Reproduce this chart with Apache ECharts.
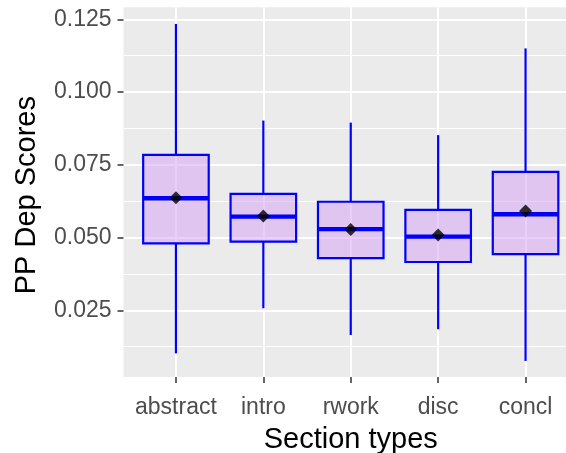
<!DOCTYPE html>
<html><head><meta charset="utf-8">
<script src="https://cdn.jsdelivr.net/npm/echarts@6/dist/echarts.min.js"></script>
<style>html,body{margin:0;padding:0;background:#fff}#c{width:566px;height:453px}</style>
</head><body><div id="c"></div>
<script>
const categories = ['abstract', 'intro', 'rwork', 'disc', 'concl'];
const whiskerLow = [0.0102, 0.0257, 0.0165, 0.0185, 0.0076];
const q1 = [0.0480, 0.0486, 0.0429, 0.0416, 0.0443];
const median = [0.0635, 0.0572, 0.0529, 0.0503, 0.0580];
const q3 = [0.0784, 0.0650, 0.0623, 0.0595, 0.0726];
const whiskerHigh = [0.1234, 0.0902, 0.0895, 0.0852, 0.1150];
const means = [0.0637, 0.0574, 0.0528, 0.0509, 0.0591];
const yTicks = [0.025, 0.05, 0.075, 0.1, 0.125];
const yMinor = [0.0125, 0.0375, 0.0625, 0.0875, 0.1125];
const xPositions = [1, 2, 3, 4, 5];

const FONT = "'Liberation Sans', Arial, sans-serif";
const boxData = categories.map((c, k) => [xPositions[k], whiskerLow[k], q1[k], median[k], q3[k], whiskerHigh[k]]);
const meanData = categories.map((c, k) => [xPositions[k], means[k]]);

const chart = echarts.init(document.getElementById('c'), null, {renderer: 'canvas'});
chart.setOption({
  animation: false,
  backgroundColor: '#ffffff',
  grid: {left: 123.5, top: 7.3, right: -12, bottom: 76, show: true, backgroundColor: '#EBEBEB', borderWidth: 0, outerBoundsMode: 'none', containLabel: false},
  xAxis: {
    type: 'value', min: 0.4, max: 5.6,
    name: 'Section types', nameLocation: 'middle', nameGap: 48,
    nameTextStyle: {fontFamily: FONT, fontSize: 29, color: '#000000'},
    axisLine: {show: false},
    axisTick: {show: true, customValues: xPositions, length: 6, lineStyle: {color: '#333333', width: 1.5}},
    axisLabel: {customValues: xPositions, margin: 19, fontFamily: FONT, fontSize: 23, color: '#4D4D4D',
      formatter: v => categories[Math.round(v) - 1] || ''},
    splitLine: {show: true, lineStyle: {color: '#FFFFFF', width: 2}}
  },
  yAxis: [{
    type: 'value', min: 0.00208, max: 0.12912,
    name: 'PP Dep Scores', nameLocation: 'middle', nameRotate: 90, nameGap: 82,
    nameTextStyle: {fontFamily: FONT, fontSize: 29, color: '#000000', padding: [0, 6, 0, 0]},
    axisLine: {show: false},
    axisTick: {show: true, customValues: yTicks, length: 6, lineStyle: {color: '#333333', width: 1.5}},
    axisLabel: {customValues: yTicks, margin: 12, fontFamily: FONT, fontSize: 23, color: '#4D4D4D',
      formatter: v => v.toFixed(3)},
    splitLine: {show: true, lineStyle: {color: '#FFFFFF', width: 2}}
  }, {
    type: 'value', min: 0.00208, max: 0.12912, position: 'left',
    axisLine: {show: false},
    axisTick: {show: false, customValues: yMinor},
    axisLabel: {show: false, customValues: yMinor},
    splitLine: {show: true, lineStyle: {color: '#FFFFFF', width: 1}}
  }],
  series: [{
    type: 'custom',
    data: boxData,
    encode: {x: 0, y: [1, 2, 3, 4, 5]},
    z: 3,
    renderItem: function (params, api) {
      const x = api.value(0);
      const lo = api.coord([x, api.value(1)]);
      const b1 = api.coord([x, api.value(2)]);
      const md = api.coord([x, api.value(3)]);
      const b3 = api.coord([x, api.value(4)]);
      const hi = api.coord([x, api.value(5)]);
      const w = api.size([0.75, 0])[0];
      const blue = '#0000FF';
      return {
        type: 'group',
        children: [
          {type: 'line', shape: {x1: hi[0], y1: hi[1], x2: b3[0], y2: b3[1]}, style: {stroke: blue, lineWidth: 2.2}},
          {type: 'line', shape: {x1: b1[0], y1: b1[1], x2: lo[0], y2: lo[1]}, style: {stroke: blue, lineWidth: 2.2}},
          {type: 'rect', shape: {x: md[0] - w / 2, y: b3[1], width: w, height: b1[1] - b3[1]},
            style: {fill: 'rgba(211,159,243,0.5)', stroke: blue, lineWidth: 2.2}},
          {type: 'line', shape: {x1: md[0] - w / 2, y1: md[1], x2: md[0] + w / 2, y2: md[1]}, style: {stroke: blue, lineWidth: 4.4}}
        ]
      };
    }
  }, {
    type: 'scatter',
    data: meanData,
    symbol: 'diamond',
    symbolSize: 13,
    z: 5,
    itemStyle: {color: '#000000'}
  }]
});
</script>
</body></html>
